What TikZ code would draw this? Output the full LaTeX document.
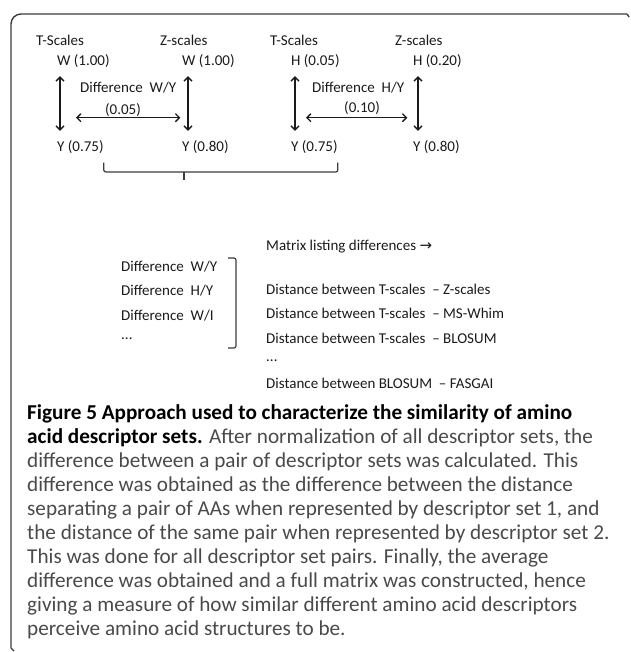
\documentclass[tikz,border=0pt]{standalone}
\usepackage{fontspec}
\setmainfont{Carlito}
\newfontfamily\arrowfont{DejaVu Sans}
\usetikzlibrary{arrows.meta}
\definecolor{ink}{HTML}{1A1A1A}
\definecolor{captgray}{HTML}{4A4A4A}
\tikzset{
  lbl/.style={anchor=west, inner sep=0pt, text height=10pt, text depth=3pt,
    font=\fontsize{15}{17}\selectfont, text=ink},
  dbl/.style={{Straight Barb[length=4pt,width=8pt]}-{Straight Barb[length=4pt,width=8pt]},
    line width=1.3pt, draw=ink},
  brc/.style={line width=1.2pt, draw=ink!85, rounded corners=2pt},
  frm/.style={line width=1.4pt, draw=ink!85},
  capt/.style={anchor=north west, inner sep=0pt, align=left, text=captgray,
    font=\fontsize{21.2}{24.1}\selectfont}
}
\begin{document}
\begin{tikzpicture}[x=1pt,y=-1pt]
  \useasboundingbox (0,0) rectangle (630,652);
  % frame
  \draw[frm, rounded corners=10pt] (11,648) -- (11,14) -- (627,14);
  \draw[frm] (11,648) -- (14,651);
  \draw[frm] (627,14) -- (629,17);

  % descriptor sets
  \node[lbl] (ts1) at (36,42) {T-Scales};
  \node[lbl] (zs1) at (160,42) {Z-scales};
  \node[lbl] (ts2) at (270,42) {T-Scales};
  \node[lbl] (zs2) at (395,42) {Z-scales};
  \node[lbl] (w1) at (57,62) {W (1.00)};
  \node[lbl] (w2) at (182,62) {W (1.00)};
  \node[lbl] (h1) at (291,62) {H (0.05)};
  \node[lbl] (h2) at (413,62) {H (0.20)};
  \node[lbl] (y1) at (57,148) {Y (0.75)};
  \node[lbl] (y2) at (182,148) {Y (0.80)};
  \node[lbl] (y3) at (291,148) {Y (0.75)};
  \node[lbl] (y4) at (413,148) {Y (0.80)};
  \node[lbl] (dwy) at (80,89) {Difference~ W/Y};
  \node[lbl] (v1) at (105,111) {(0.05)};
  \node[lbl] (dhy) at (312,89) {Difference~ H/Y};
  \node[lbl] (v2) at (344,109) {(0.10)};
  \draw[dbl] ([xshift=3pt,yshift=-7.5pt]w1.south west) -- ([xshift=3pt,yshift=10.5pt]y1.north west);
  \draw[dbl] ([xshift=6pt,yshift=-7.5pt]w2.south west) -- ([xshift=6pt,yshift=10.5pt]y2.north west);
  \draw[dbl] ([xshift=4pt,yshift=-7.5pt]h1.south west) -- ([xshift=4pt,yshift=10.5pt]y3.north west);
  \draw[dbl] ([xshift=5pt,yshift=-7.5pt]h2.south west) -- ([xshift=5pt,yshift=10.5pt]y4.north west);
  \draw[dbl] ([xshift=-4pt]dwy.west |- v1.south) -- ([xshift=4pt]dwy.east |- v1.south);
  \draw[dbl] ([xshift=-6pt]dhy.west |- v1.south) -- ([xshift=3pt]dhy.east |- v1.south);
  % brace
  \coordinate (brc) at (184,172);
  \draw[brc] ([yshift=-8pt]y1.south east) |- (brc) -| ([yshift=-8pt]y3.south east);
  \draw[brc] (brc) -- ++(0,8);

  % differences
  \node[lbl] (d1) at (121,268) {Difference~ W/Y};
  \node[lbl] (d2) at (121,292) {Difference~ H/Y};
  \node[lbl] (d3) at (121,317) {Difference~ W/I};
  \node[lbl] (d4) at (121,336) {...};
  \coordinate (bkt) at (228,258);
  \coordinate (bkb) at (228,348);
  \draw[brc] (bkt) -- ++(8,0) |- (bkb);

  % matrix
  \node[lbl] (mx) at (266,247) {Matrix listing differences {\arrowfont\fontsize{15}{17}\selectfont →}};
  \node[lbl] (m1) at (266,291) {Distance between T-scales~ – Z-scales};
  \node[lbl] (m2) at (266,315) {Distance between T-scales~ – MS-Whim};
  \node[lbl] (m3) at (266,340) {Distance between T-scales~ – BLOSUM};
  \node[lbl] (m4) at (266,358) {...};
  \node[lbl] (m5) at (266,385) {Distance between BLOSUM~ – FASGAI};

  % caption
  \node[capt] (cap) at (27,404) {\textcolor{black}{\textbf{Figure 5 Approach used to characterize the similarity of amino}}\\
    \textcolor{black}{\textbf{acid descriptor sets.}} After normalization of all descriptor sets, the\\
    difference between a pair of descriptor sets was calculated. This\\
    difference was obtained as the difference between the distance\\
    separating a pair of AAs when represented by descriptor set 1, and\\
    the distance of the same pair when represented by descriptor set 2.\\
    This was done for all descriptor set pairs. Finally, the average\\
    difference was obtained and a full matrix was constructed, hence\\
    giving a measure of how similar different amino acid descriptors\\
    perceive amino acid structures to be.};
\end{tikzpicture}
\end{document}
